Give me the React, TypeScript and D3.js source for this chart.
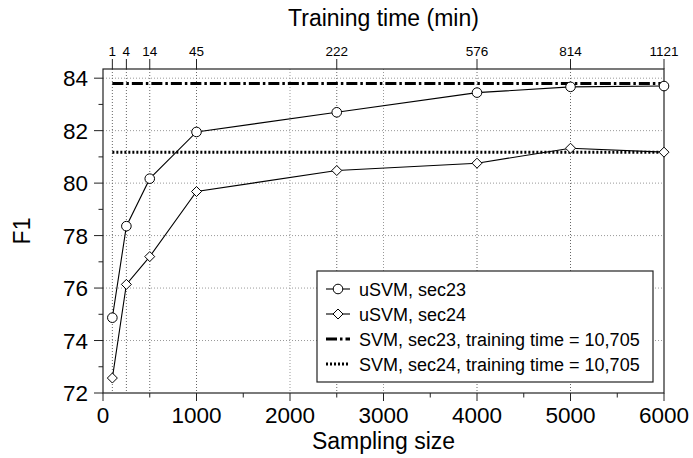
import { useEffect, useRef } from "react";
import * as d3 from "d3";

// sampling sizes and the matching training times (min) on the top axis
const samplingSizes = [100, 250, 500, 1000, 2500, 4000, 5000, 6000];
const trainingTimes = ["1", "4", "14", "45", "222", "576", "814", "1121"];

const usvmSec23 = [74.87, 78.36, 80.17, 81.95, 82.7, 83.45, 83.67, 83.7];
const usvmSec24 = [72.57, 76.14, 77.2, 79.68, 80.48, 80.76, 81.33, 81.18];

const svmSec23 = 83.8;
const svmSec24 = 81.18;

const xTicks = [0, 1000, 2000, 3000, 4000, 5000, 6000];
const xMinorTicks = [500, 1500, 2500, 3500, 4500, 5500];
const yTicks = [72, 74, 76, 78, 80, 82, 84];
const yMinorTicks = [73, 75, 77, 79, 81, 83];

const legendLabels = [
    "uSVM, sec23",
    "uSVM, sec24",
    "SVM, sec23, training time = 10,705",
    "SVM, sec24, training time = 10,705",
];

const FONT = "'Liberation Sans', Arial, Helvetica, sans-serif";

const Chart = () => {
    const ref = useRef<SVGSVGElement | null>(null);

    useEffect(() => {
        const root = d3.select(ref.current);
        root.selectAll("*").remove();

        const margin = { top: 69, right: 29, bottom: 65, left: 103 };
        const width = 693 - margin.left - margin.right;
        const height = 458 - margin.top - margin.bottom;

        const svg = root.append("g")
            .attr("transform", `translate(${margin.left},${margin.top})`);

        const x = d3.scaleLinear().domain([0, 6000]).range([0, width]);
        const y = d3.scaleLinear().domain([72, 84.35]).range([height, 0]);

        const axisColor = "#222";

        // grid
        svg.append("g")
            .selectAll("line")
            .data(yTicks.filter(d => d > 72))
            .enter().append("line")
            .attr("x1", 0).attr("x2", width)
            .attr("y1", d => y(d)).attr("y2", d => y(d))
            .attr("stroke", "#999")
            .attr("stroke-width", 1)
            .attr("stroke-dasharray", "1,2");

        svg.append("g")
            .selectAll("line")
            .data(xTicks.filter(d => d > 0 && d < 6000 && !samplingSizes.includes(d)))
            .enter().append("line")
            .attr("x1", d => x(d)).attr("x2", d => x(d))
            .attr("y1", 0).attr("y2", height)
            .attr("stroke", "#999")
            .attr("stroke-width", 1)
            .attr("stroke-dasharray", "1,2");

        svg.append("g")
            .selectAll("line")
            .data(samplingSizes.filter(d => d < 6000))
            .enter().append("line")
            .attr("x1", d => x(d)).attr("x2", d => x(d))
            .attr("y1", 0).attr("y2", height)
            .attr("stroke", "#666")
            .attr("stroke-width", 1)
            .attr("stroke-dasharray", "1,2");

        // frame
        svg.append("rect")
            .attr("x", 0).attr("y", 0)
            .attr("width", width).attr("height", height)
            .attr("fill", "none")
            .attr("stroke", axisColor)
            .attr("stroke-width", 1.2);

        // bottom axis
        const bottom = svg.append("g").attr("transform", `translate(0,${height})`);
        bottom.selectAll(".major")
            .data(xTicks)
            .enter().append("line")
            .attr("x1", d => x(d)).attr("x2", d => x(d))
            .attr("y1", 0).attr("y2", 8)
            .attr("stroke", axisColor);
        bottom.selectAll(".minor")
            .data(xMinorTicks)
            .enter().append("line")
            .attr("x1", d => x(d)).attr("x2", d => x(d))
            .attr("y1", 0).attr("y2", 4.5)
            .attr("stroke", axisColor);
        bottom.selectAll("text")
            .data(xTicks)
            .enter().append("text")
            .attr("x", d => x(d))
            .attr("y", 29.5)
            .attr("text-anchor", "middle")
            .attr("font-family", FONT)
            .attr("font-size", "22.5px")
            .attr("fill", "#000")
            .text(d => d);

        // left axis
        const left = svg.append("g");
        left.selectAll(".major")
            .data(yTicks)
            .enter().append("line")
            .attr("x1", -9).attr("x2", 0)
            .attr("y1", d => y(d)).attr("y2", d => y(d))
            .attr("stroke", axisColor);
        left.selectAll(".minor")
            .data(yMinorTicks)
            .enter().append("line")
            .attr("x1", -4.5).attr("x2", 0)
            .attr("y1", d => y(d)).attr("y2", d => y(d))
            .attr("stroke", axisColor);
        left.selectAll("text")
            .data(yTicks)
            .enter().append("text")
            .attr("x", -15)
            .attr("y", d => y(d) + 8)
            .attr("text-anchor", "end")
            .attr("font-family", FONT)
            .attr("font-size", "22.5px")
            .attr("fill", "#000")
            .text(d => d);

        // top axis (training time)
        const top = svg.append("g");
        top.selectAll("line")
            .data(samplingSizes)
            .enter().append("line")
            .attr("x1", d => x(d)).attr("x2", d => x(d))
            .attr("y1", -10).attr("y2", 0)
            .attr("stroke", axisColor);
        top.selectAll("text")
            .data(samplingSizes)
            .enter().append("text")
            .attr("x", d => x(d))
            .attr("y", -13)
            .attr("text-anchor", "middle")
            .attr("font-family", FONT)
            .attr("font-size", "13.5px")
            .attr("fill", "#000")
            .text((d, i) => trainingTimes[i]);

        // axis titles
        svg.append("text")
            .attr("x", width / 2)
            .attr("y", -43)
            .attr("text-anchor", "middle")
            .attr("font-family", FONT)
            .attr("font-size", "23px")
            .text("Training time (min)");

        svg.append("text")
            .attr("x", width / 2)
            .attr("y", height + 56)
            .attr("text-anchor", "middle")
            .attr("font-family", FONT)
            .attr("font-size", "23px")
            .text("Sampling size");

        svg.append("text")
            .attr("transform", `translate(${-73},${height / 2}) rotate(-90)`)
            .attr("text-anchor", "middle")
            .attr("font-family", FONT)
            .attr("font-size", "23px")
            .text("F1");

        // SVM reference lines
        const xStart = samplingSizes[0];
        const xEnd = samplingSizes[samplingSizes.length - 1];
        svg.append("line")
            .attr("x1", x(xStart)).attr("x2", x(xEnd))
            .attr("y1", y(svmSec23)).attr("y2", y(svmSec23))
            .attr("stroke", "#000")
            .attr("stroke-width", 3)
            .attr("stroke-dasharray", "11,3,2.5,3");
        svg.append("line")
            .attr("x1", x(xStart)).attr("x2", x(xEnd))
            .attr("y1", y(svmSec24)).attr("y2", y(svmSec24))
            .attr("stroke", "#000")
            .attr("stroke-width", 3)
            .attr("stroke-dasharray", "2,2");

        // uSVM lines
        const line = d3.line<number>()
            .x((d, i) => x(samplingSizes[i]))
            .y(d => y(d));

        [usvmSec23, usvmSec24].forEach(series => {
            svg.append("path")
                .datum(series)
                .attr("d", line)
                .attr("fill", "none")
                .attr("stroke", "#000")
                .attr("stroke-width", 1.1);
        });

        svg.selectAll(".circle")
            .data(usvmSec23)
            .enter().append("circle")
            .attr("cx", (d, i) => x(samplingSizes[i]))
            .attr("cy", d => y(d))
            .attr("r", 4.8)
            .attr("fill", "#fff")
            .attr("stroke", "#000")
            .attr("stroke-width", 1);

        const diamond = (cx: number, cy: number, r: number) =>
            `M${cx},${cy - r}L${cx + r},${cy}L${cx},${cy + r}L${cx - r},${cy}Z`;

        svg.selectAll(".diamond")
            .data(usvmSec24)
            .enter().append("path")
            .attr("d", (d, i) => diamond(x(samplingSizes[i]), y(d), 5))
            .attr("fill", "#fff")
            .attr("stroke", "#000")
            .attr("stroke-width", 1);

        // legend
        const legend = root.append("g").attr("transform", "translate(317,271)");
        legend.append("rect")
            .attr("x", 0).attr("y", 0)
            .attr("width", 336).attr("height", 111)
            .attr("fill", "#fff")
            .attr("stroke", axisColor)
            .attr("stroke-width", 1.2);

        const rows = legend.selectAll(".row")
            .data(legendLabels)
            .enter().append("g")
            .attr("transform", (d, i) => `translate(0,${18 + i * 25})`);

        rows.append("line")
            .attr("x1", 9).attr("x2", 33)
            .attr("y1", 0).attr("y2", 0)
            .attr("stroke", "#000")
            .attr("stroke-width", (d, i) => (i < 2 ? 1.1 : 3))
            .attr("stroke-dasharray", (d, i) => (i === 2 ? "11,3,2.5,3" : i === 3 ? "2,2" : null));

        rows.filter((d, i) => i === 0)
            .append("circle")
            .attr("cx", 21).attr("cy", 0).attr("r", 4.8)
            .attr("fill", "#fff").attr("stroke", "#000");

        rows.filter((d, i) => i === 1)
            .append("path")
            .attr("d", diamond(21, 0, 5))
            .attr("fill", "#fff").attr("stroke", "#000");

        rows.append("text")
            .attr("x", 42)
            .attr("y", 6.5)
            .attr("font-family", FONT)
            .attr("font-size", "18px")
            .attr("fill", "#000")
            .text(d => d);
    }, []);

    return (
        <svg
            ref={ref}
            width={693}
            height={458}
            style={{ position: "absolute", left: 0, top: 0, background: "#fff" }}
        />
    );
};

export default function App() {
    return <Chart />;
}
